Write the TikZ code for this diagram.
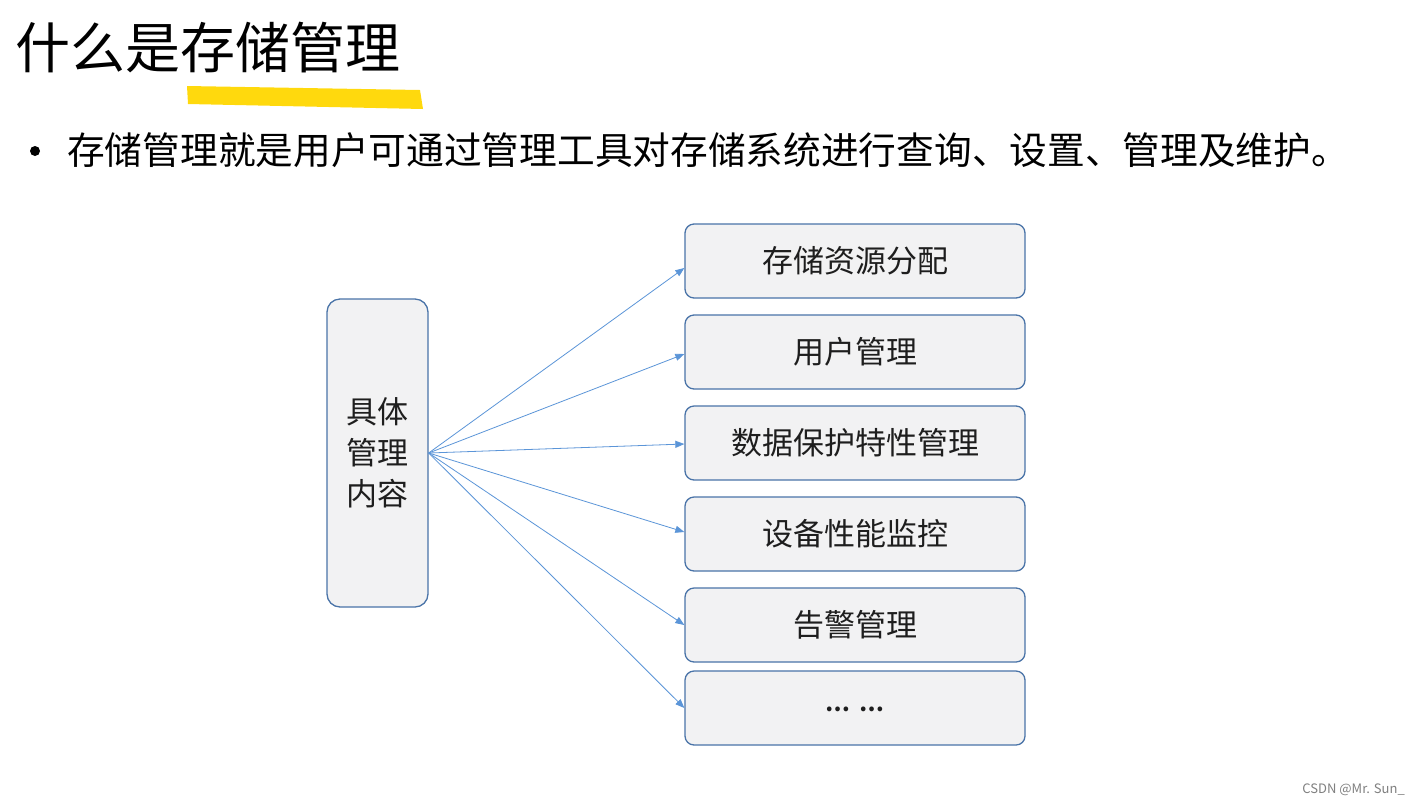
\documentclass[tikz,border=0pt]{standalone}
\usepackage{fontspec}
\setmainfont{Noto Sans CJK SC}
\usetikzlibrary{arrows.meta}
\definecolor{boxfill}{HTML}{F2F2F3}
\definecolor{boxline}{HTML}{4A74A8}
\definecolor{arr}{HTML}{5B95D8}
\definecolor{hl}{HTML}{FFD800}
\definecolor{txt}{HTML}{1E1E1E}
\tikzset{
  itembox/.style={draw=boxline, fill=boxfill, line width=1.3pt, rounded corners=9pt,
    minimum width=340pt, minimum height=74pt, inner sep=0pt, text=txt,
    font=\fontsize{31pt}{36pt}\selectfont},
  mainbox/.style={draw=boxline, fill=boxfill, line width=1.3pt, rounded corners=13pt,
    minimum width=101pt, minimum height=308pt, inner sep=0pt, text=txt, align=center,
    font=\fontsize{31pt}{41pt}\selectfont},
  link/.style={draw=arr, line width=0.8pt, -{Triangle[length=9pt,width=7pt]}}
}
\begin{document}
\begin{tikzpicture}[x=1pt,y=-1pt]
\useasboundingbox[fill=white] (0,0) rectangle (1418,807);
% highlight
\fill[hl, opacity=0.95] (187,86) -- (420,90) -- (423,109) -- (188,104) -- cycle;
\node[anchor=west, inner sep=0pt, font=\fontsize{55pt}{60pt}\selectfont] (title) at (15,48) {什么是存储管理};
\node[circle, fill=black, inner sep=0pt, minimum size=10pt] (bullet) at (35,151) {};
\node[anchor=west, inner sep=0pt, font=\fontsize{37.7pt}{40pt}\selectfont] (desc) at (67,150) {存储管理就是用户可通过管理工具对存储系统进行查询、设置、管理及维护。};

\node[mainbox] (main) at (377.5,453) {具体\\管理\\内容};
\node[itembox] (b1) at (855,261) {存储资源分配};
\node[itembox] (b2) at (855,352) {用户管理};
\node[itembox] (b3) at (855,443) {数据保护特性管理};
\node[itembox] (b4) at (855,534) {设备性能监控};
\node[itembox] (b5) at (855,625) {告警管理};
\node[itembox, font=\fontsize{22pt}{24pt}\selectfont\bfseries] (b6) at (855,708) {\raisebox{-7pt}{…\hspace{10pt}…}};

\coordinate (src) at (main.east);
\draw[link] (src) -- (b1.west |- 0,268);
\draw[link] (src) -- (b2.west |- 0,354);
\draw[link] (src) -- (b3.west |- 0,444);
\draw[link] (src) -- (b4.west |- 0,532);
\draw[link] (src) -- (b5.west);
\draw[link] (src) -- (b6.west);

\node[anchor=east, inner sep=0pt, text=gray, font=\fontsize{13pt}{14pt}\selectfont] (wm) at (1405,790) {CSDN @Mr. Sun\_};
\end{tikzpicture}
\end{document}
